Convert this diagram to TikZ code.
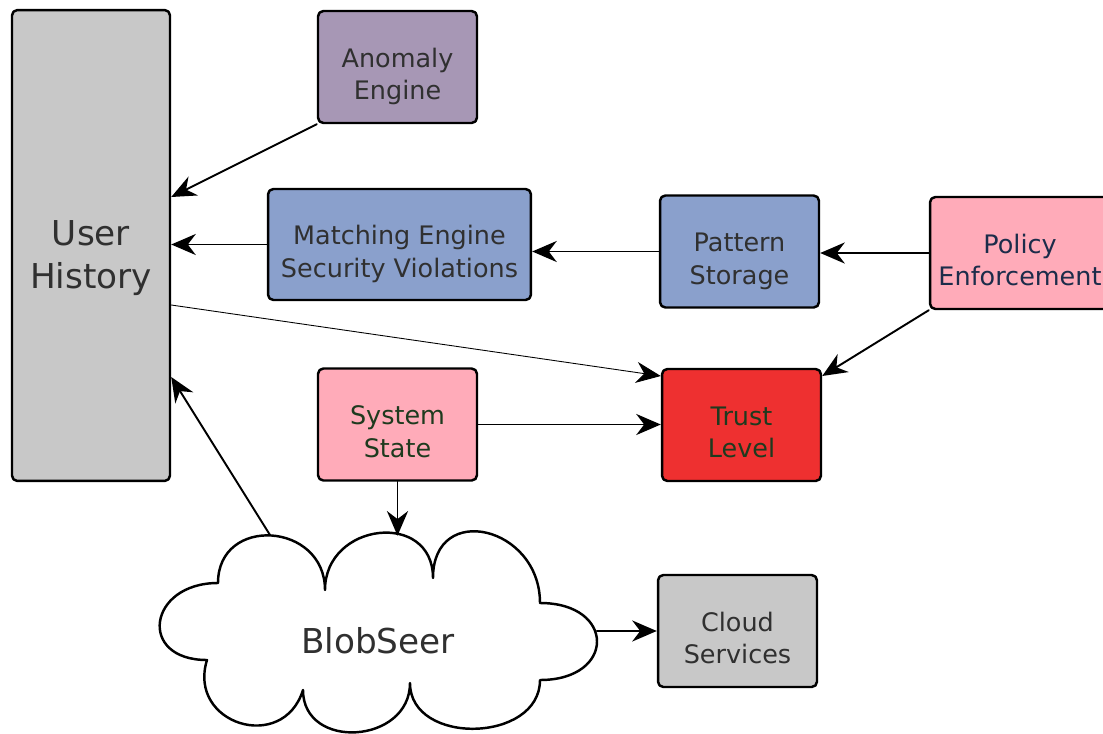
\documentclass[tikz,border=0pt]{standalone}
\usepackage{fontspec}
\setmainfont{DejaVu Sans}
\usetikzlibrary{arrows.meta}
\definecolor{histgray}{HTML}{C8C8C8}
\definecolor{anompurple}{HTML}{A797B5}
\definecolor{matchblue}{HTML}{8AA0CC}
\definecolor{policypink}{HTML}{FFABB9}
\definecolor{trustred}{HTML}{EE3030}
\definecolor{txtgray}{HTML}{303030}
\definecolor{txtnavy}{HTML}{1C2C4A}
\definecolor{txtgreen}{HTML}{1E3A1E}
\begin{document}
\begin{tikzpicture}[x=0.02cm, y=-0.02cm, line join=round, line cap=round, >={Stealth[length=14pt, width=12pt]},
  box/.style={draw, line width=1.4pt, rounded corners=3pt, align=center, inner sep=2pt,
    text height=37pt, text depth=0pt,
    minimum width=3.18cm, minimum height=2.24cm, text=txtgray, font=\fontsize{14.5}{18.5}\selectfont},
  big/.style={font=\fontsize{19.5}{24.5}\selectfont},
  link/.style={->, line width=1.1pt}]
\useasboundingbox (0,0) rectangle (1103,734);
% boxes
\node[box, big, text height=49pt, fill=histgray, minimum width=3.16cm, minimum height=9.42cm] (hist) at (91,245.5) {User\\History};
\node[box, fill=anompurple] (anom) at (397.5,67) {Anomaly\\Engine};
\node[box, fill=matchblue, minimum width=5.26cm, minimum height=2.22cm] (match) at (399.5,244.5) {Matching Engine\\Security Violations};
\node[box, fill=matchblue] (pat) at (739.5,251.5) {Pattern\\Storage};
\node[box, fill=policypink, minimum width=3.6cm, text=txtnavy] (pol) at (1020,253) {Policy\\Enforcement};
\node[box, fill=policypink, text=txtgreen] (sys) at (397.5,424.5) {System\\State};
\node[box, fill=trustred, text=txtgreen] (trust) at (741.5,425) {Trust\\Level};
\node[box, fill=histgray] (serv) at (737.5,631) {Cloud\\Services};
% cloud
\draw[line width=1.4pt] (218,583) .. controls (148,583) and (137,660) .. (207,660)
  .. controls (187,724) and (283,754) .. (303,690)
  .. controls (303,751) and (410,744) .. (410,683)
  .. controls (410,746) and (540,743) .. (540,680)
  .. controls (616,680) and (616,603) .. (540,603)
  .. controls (540,526) and (433,501) .. (433,578)
  .. controls (433,510) and (325,522) .. (325,590)
  .. controls (325,522) and (218,515) .. cycle;
\node[big, text=txtgray, minimum width=8.74cm, minimum height=4.2cm] (blob) at (378,641) {BlobSeer};
\coordinate (puff) at (270,535);
% connectors
\draw[link] (anom.south west) -- (hist.east |- 0,197);
\draw[link] (match.west) -- (hist.east |- match.west);
\draw[link] (pat.west) -- (match.east |- pat.west);
\draw[link] (pol.west) -- (pat.east |- pol.west);
\draw[link] (pol.south west) -- (trust.east |- 0,376);
\draw[->, line width=0.5pt] (hist.east |- 0,305) -- (trust.west |- 0,376);
\draw[link] (sys.east) -- (trust.west |- sys.east);
\draw[link] (sys.south) -- (sys.south |- blob.north);
\draw[link] (puff) -- (hist.east |- 0,377);
\draw[link] (blob.east |- serv.west) -- (serv.west);
\end{tikzpicture}
\end{document}
